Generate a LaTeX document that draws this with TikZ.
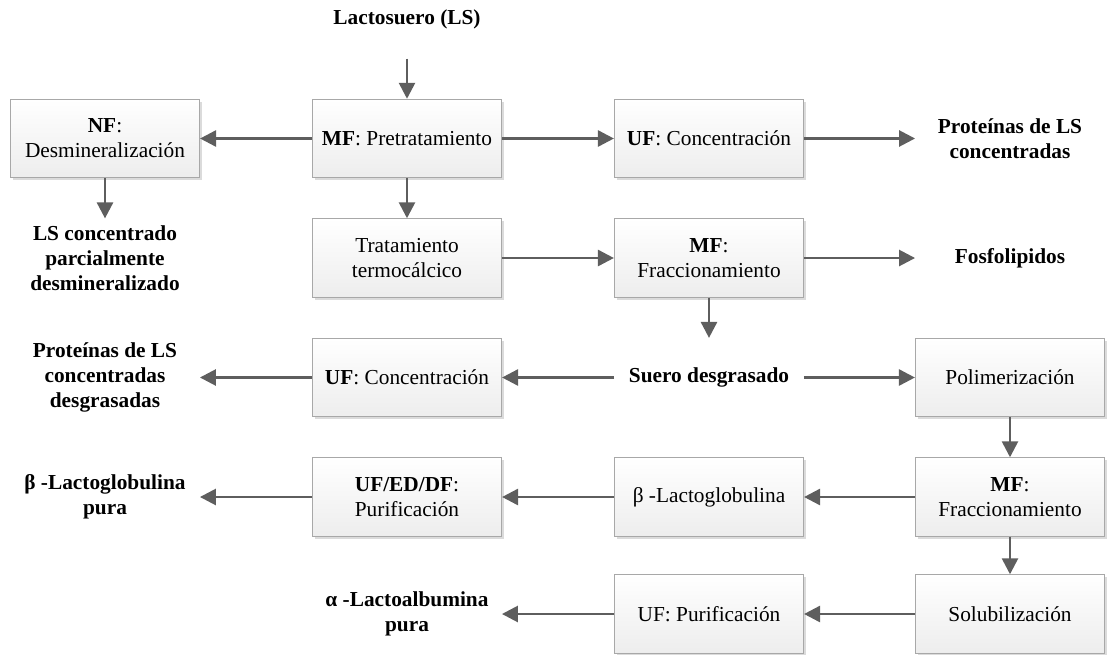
\documentclass[tikz,border=0pt]{standalone}
\usepackage{fontspec}
\setmainfont{Liberation Serif}
\usetikzlibrary{arrows.meta,shadows}

\definecolor{flecha}{HTML}{5E5E5E}
\definecolor{borde}{HTML}{A8A8A8}

\tikzset{
  proceso/.style={draw=borde, line width=0.6pt, top color=white, bottom color=gray!14,
    minimum width=142pt, minimum height=59pt, inner sep=2pt, align=center,
    drop shadow={shadow xshift=1.8pt, shadow yshift=-1.8pt, fill=gray!35, opacity=0.8}},
  producto/.style={minimum width=142pt, minimum height=59pt, inner sep=2pt, align=center,
    font=\fontsize{16}{18.75}\selectfont\bfseries},
  flujo/.style={draw=flecha, line width=2pt, -{Triangle[length=12pt,width=12pt]}}
}

\begin{document}
\begin{tikzpicture}[x=0.75pt, y=-0.75pt, font=\fontsize{16}{18.75}\selectfont]
            \useasboundingbox (0,0) rectangle (1107,654);
            % fila 0
            \node[producto] (ls) at (407,19) {Lactosuero (LS)};
            % fila 1
            \node[proceso] (nf) at (105,138.5) {\textbf{NF}:\\Desmineralización};
            \node[proceso] (mfpre) at (407,138.5) {\textbf{MF}: Pretratamiento};
            \node[proceso] (ufcon) at (709,138.5) {\textbf{UF}: Concentración};
            \node[producto] (protls) at (1010,138.5) {Proteínas de LS\\concentradas};
            % fila 2
            \node[producto] (lsdesm) at (105,258) {LS concentrado\\parcialmente\\desmineralizado};
            \node[proceso] (termo) at (407,258) {Tratamiento\\termocálcico};
            \node[proceso] (mffrac) at (709,258) {\textbf{MF}:\\Fraccionamiento};
            \node[producto] (fosfo) at (1010,258) {Fosfolipidos};
            % fila 3
            \node[producto] (protdes) at (105,377.5) {Proteínas de LS\\concentradas\\desgrasadas};
            \node[proceso] (ufcon2) at (407,377.5) {\textbf{UF}: Concentración};
            \node[producto] (suero) at (709,377.5) {Suero desgrasado};
            \node[proceso] (polim) at (1010,377.5) {Polimerización};
            % fila 4
            \node[producto] (betapura) at (105,497) {β -Lactoglobulina\\pura};
            \node[proceso] (ufed) at (407,497) {\textbf{UF/ED/DF}:\\Purificación};
            \node[proceso] (beta) at (709,497) {β -Lactoglobulina};
            \node[proceso] (mffrac2) at (1010,497) {\textbf{MF}:\\Fraccionamiento};
            % fila 5
            \node[producto] (alfapura) at (407,614) {α -Lactoalbumina\\pura};
            \node[proceso] (ufpur) at (709,614) {UF: Purificación};
            \node[proceso] (solub) at (1010,614) {Solubilización};

            \draw[flujo] (ls) -- (mfpre);
            \draw[flujo] (mfpre) -- (nf);
            \draw[flujo] (mfpre) -- (ufcon);
            \draw[flujo] (ufcon) -- (protls);
            \draw[flujo] (nf) -- (lsdesm);
            \draw[flujo] (mfpre) -- (termo);
            \draw[flujo] (termo) -- (mffrac);
            \draw[flujo] (mffrac) -- (fosfo);
            \draw[flujo] (mffrac) -- (suero);
            \draw[flujo] (suero) -- (ufcon2);
            \draw[flujo] (suero) -- (polim);
            \draw[flujo] (ufcon2) -- (protdes);
            \draw[flujo] (polim) -- (mffrac2);
            \draw[flujo] (mffrac2) -- (beta);
            \draw[flujo] (beta) -- (ufed);
            \draw[flujo] (ufed) -- (betapura);
            \draw[flujo] (mffrac2) -- (solub);
            \draw[flujo] (solub) -- (ufpur);
            \draw[flujo] (ufpur) -- (alfapura);
        \end{tikzpicture}
\end{document}
